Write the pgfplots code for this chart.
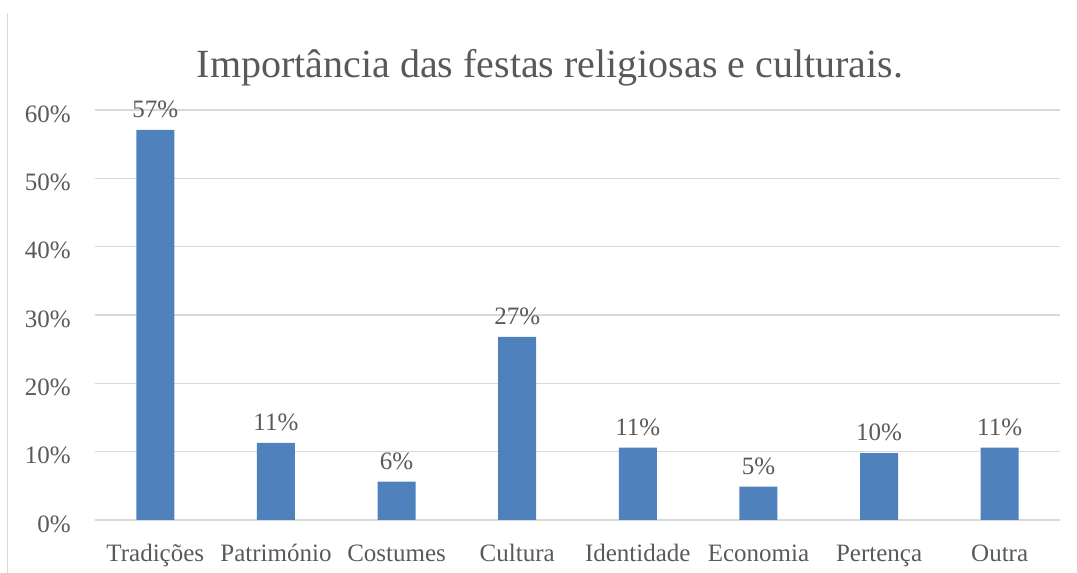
\documentclass[border=0pt]{standalone}
\usepackage{pgfplots}
\pgfplotsset{compat=1.18}
\usepackage{fontspec}
\setmainfont{Liberation Serif}
\definecolor{barblue}{HTML}{4F81BD}
\definecolor{gridgray}{HTML}{D9D9D9}
\definecolor{textgray}{HTML}{595959}
\begin{document}
\begin{tikzpicture}[x=1pt,y=1pt]
\path[use as bounding box] (0,0) rectangle (1077,573);
\draw[gridgray, line width=1.5pt] (7.5,560) -- (7.5,0);
\node[anchor=base, text=textgray, font=\fontsize{40}{48}\selectfont] at (550,495) {Importância das festas religiosas e culturais.};
\begin{axis}[
  at={(95pt,53pt)}, anchor=south west,
  scale only axis, width=965pt, height=410pt,
  xmin=-0.5, xmax=7.5, ymin=0, ymax=60,
  clip=false,
  axis line style={draw=none},
  major tick length=0pt,
  ymajorgrids, major grid style={draw=gridgray, line width=1.5pt},
  ytick={0,10,20,30,40,50,60},
  yticklabels={0\%,10\%,20\%,30\%,40\%,50\%,60\%},
  yticklabel style={anchor=east, inner sep=0pt, xshift=-24pt, yshift=-4pt, text=textgray, font=\fontsize{25}{30}\selectfont},
  xtick={0,...,7},
  xticklabels={Tradições,Património,Costumes,Cultura,Identidade,Economia,Pertença,Outra},
  xticklabel style={anchor=base, inner sep=0pt, yshift=-42pt, text=textgray, font=\fontsize{25}{30}\selectfont},
  point meta=explicit symbolic,
  nodes near coords,
  nodes near coords style={anchor=base, inner sep=0pt, yshift=12.5pt, text=textgray, font=\fontsize{25}{30}\selectfont},
]
\addplot[ybar, bar width=38pt, fill=barblue, draw=none] coordinates {
  (0,57.1) [57\%]
  (1,11.3) [11\%]
  (2,5.6) [6\%]
  (3,26.8) [27\%]
  (4,10.6) [11\%]
  (5,4.9) [5\%]
  (6,9.8) [10\%]
  (7,10.6) [11\%]
};
\end{axis}
\end{tikzpicture}
\end{document}
